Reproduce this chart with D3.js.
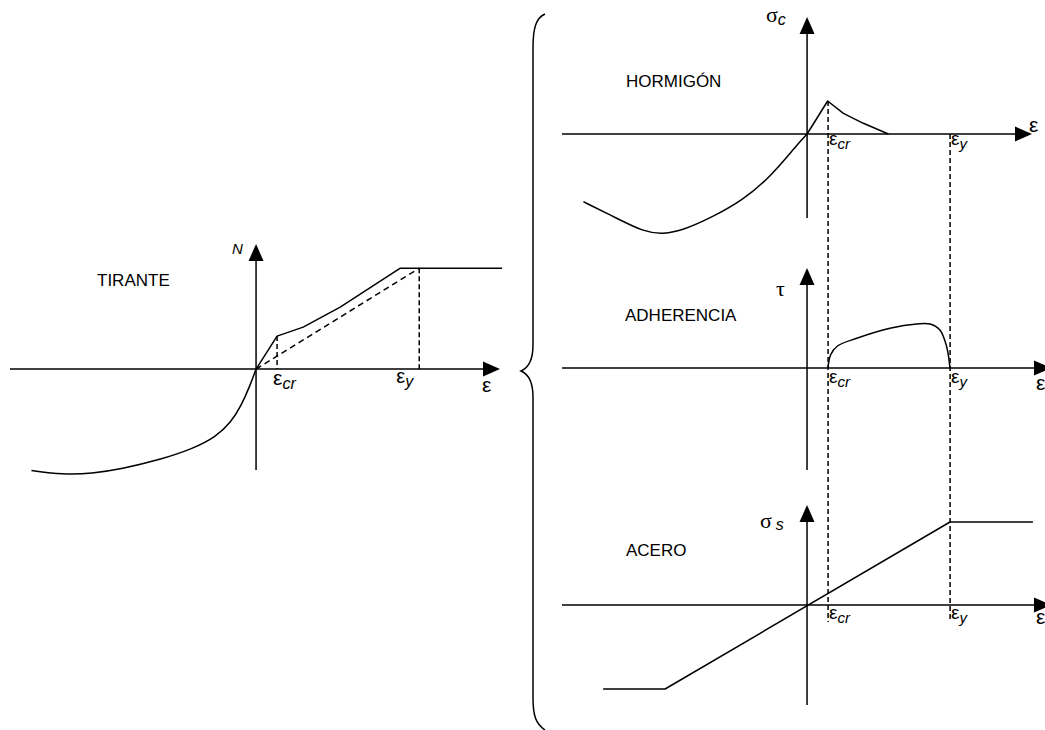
<!DOCTYPE html>
<html>
<head>
<meta charset="utf-8">
<script src="https://cdn.jsdelivr.net/npm/d3@7"></script>
<style>
  html, body { margin: 0; padding: 0; background: #fff; }
  svg { display: block; }
  text { font-family: "Liberation Sans", Arial, sans-serif; fill: #000; }
  .greek { font-family: "Liberation Serif", "Times New Roman", serif; }
</style>
</head>
<body>
<svg id="chart" width="1045" height="730"></svg>
<script>
// Unidades: eje x en múltiplos de ε_cr, eje y en unidades arbitrarias
const epsCr = 1;
const epsYTirante = 7.76;
const epsY = 6.81;

// TIRANTE: respuesta N–ε
const tiranteTension = [[0, 0], [1, 3.27], [2.24, 4.16], [4.0, 6.14], [6.86, 10], [11.7, 10]];
const tiranteSecante = [[0, 0], [7.76, 10]];
const tiranteCompresion = [[0, 0], [-0.3, -1.7], [-0.7, -3.6], [-1.2, -5.3], [-1.9, -6.7], [-3.0, -7.9],
  [-4.6, -9.0], [-6.4, -9.9], [-7.8, -10.35], [-9.2, -10.45], [-10.68, -10.05]];

// HORMIGÓN: σc–ε
const hormigonTraccion = [[0, 0], [0.98, 3.3], [1.73, 2.07], [2.68, 1.07], [3.87, 0]];
const hormigonCompresion = [[0, 0], [-0.4, -0.9], [-0.81, -1.93], [-1.76, -4.27], [-3.03, -6.6], [-4.62, -8.43],
  [-5.89, -9.6], [-6.84, -10.03], [-7.8, -9.77], [-9.06, -8.43], [-10.65, -6.77]];

// ADHERENCIA: τ–ε
const adherencia = [[1.0, 0], [1.12, 1.3], [1.45, 2.2], [2.37, 2.97], [3.95, 3.97],
  [5.22, 4.4], [5.86, 4.4], [6.33, 3.8], [6.65, 2.13], [6.81, 0]];

// ACERO: σs–ε
const acero = [[-9.71, -8.4], [-6.76, -8.4], [6.81, 8.3], [10.76, 8.3]];

const svg = d3.select('#chart');
svg.append('rect').attr('width', 1045).attr('height', 730).attr('fill', '#fff');

const panels = {
  tirante: {
    x: d3.scaleLinear().domain([-11.7, 11.6]).range([10, 500]),
    y: d3.scaleLinear().domain([-10, 12.4]).range([470, 244])
  },
  hormigon: {
    x: d3.scaleLinear().domain([-11.67, 10.71]).range([562, 1032]),
    y: d3.scaleLinear().domain([-8.4, 11.7]).range([218, 17])
  },
  adherencia: {
    x: d3.scaleLinear().domain([-11.67, 11.62]).range([562, 1051]),
    y: d3.scaleLinear().domain([-10.2, 10]).range([470, 268])
  },
  acero: {
    x: d3.scaleLinear().domain([-11.67, 11.62]).range([562, 1051]),
    y: d3.scaleLinear().domain([-10, 10]).range([705, 505])
  }
};

const sw = 1.5;

function drawAxes(p) {
  const g = svg.append('g');
  const [x0, x1] = p.x.range();
  const [y0, y1] = p.y.range();
  const ox = p.x(0), oy = p.y(0);
  g.append('line').attr('x1', x0).attr('x2', x1 - 8).attr('y1', oy).attr('y2', oy)
    .attr('stroke', '#000').attr('stroke-width', sw);
  g.append('line').attr('x1', ox).attr('x2', ox).attr('y1', y0).attr('y2', y1 + 8)
    .attr('stroke', '#000').attr('stroke-width', sw);
  // puntas de flecha
  g.append('path').attr('d', `M${x1},${oy} L${x1 - 17},${oy - 7.5} L${x1 - 17},${oy + 7.5} Z`).attr('fill', '#000');
  g.append('path').attr('d', `M${ox},${y1} L${ox - 7.5},${y1 + 17} L${ox + 7.5},${y1 + 17} Z`).attr('fill', '#000');
}

function curve(p, data, opts = {}) {
  const line = d3.line().x(d => p.x(d[0])).y(d => p.y(d[1]))
    .curve(opts.curve || d3.curveLinear);
  svg.append('path').attr('d', line(data)).attr('fill', 'none')
    .attr('stroke', '#000').attr('stroke-width', opts.width || sw)
    .attr('stroke-dasharray', opts.dash || null)
    .attr('stroke-linejoin', 'round');
}

function vdash(x, yTop, yBot, dash) {
  svg.append('line').attr('x1', x).attr('x2', x).attr('y1', yTop).attr('y2', yBot)
    .attr('stroke', '#000').attr('stroke-width', sw).attr('stroke-dasharray', dash || '5,3');
}

function label(x, y, text, size, opts = {}) {
  const t = svg.append('text').attr('x', x).attr('y', y).attr('font-size', size).text(text);
  if (opts.italic) t.attr('font-style', 'italic');
  if (opts.cls) t.attr('class', opts.cls);
  return t;
}

function epsLabel(x, y, sub, size, subSize) {
  const t = svg.append('text').attr('x', x).attr('y', y).attr('font-size', size);
  t.append('tspan').text('ε');
  t.append('tspan').attr('font-style', 'italic').attr('font-size', subSize || 15).attr('dy', 4).text(sub);
}

const smooth = d3.curveCatmullRom.alpha(0.5);
const soft = d3.curveBasis;

// ---- TIRANTE ----
const pt = panels.tirante;
drawAxes(pt);
curve(pt, tiranteTension);
curve(pt, tiranteSecante, { dash: '6,4' });
curve(pt, tiranteCompresion, { curve: soft });
vdash(pt.x(epsCr), pt.y(3.27), pt.y(0), '5,3');
vdash(pt.x(epsYTirante), pt.y(10), pt.y(0), '5,3');
label(97, 286, 'TIRANTE', 17);
label(232, 254, 'N', 15, { italic: true });
epsLabel(pt.x(epsCr) - 4, 385, 'cr', 21, 16);
epsLabel(pt.x(epsYTirante) - 23, 383, 'y', 20, 16);
label(482, 392, 'ε', 21);

// ---- HORMIGÓN ----
const ph = panels.hormigon;
drawAxes(ph);
curve(ph, hormigonTraccion);
curve(ph, hormigonCompresion, { curve: soft });
label(626, 87, 'HORMIGÓN', 17);
const sc = svg.append('text').attr('x', 766).attr('y', 22).attr('font-size', 22);
sc.append('tspan').attr('class', 'greek').text('σ');
sc.append('tspan').attr('font-style', 'italic').attr('font-size', 16).attr('dy', 3).text('c');
label(1029, 132, 'ε', 21);
epsLabel(ph.x(epsCr) + 1, 145, 'cr', 19);
epsLabel(ph.x(epsY) + 1, 145, 'y', 19);

// ---- ADHERENCIA ----
const pa = panels.adherencia;
drawAxes(pa);
curve(pa, adherencia, { curve: smooth });
label(625, 321, 'ADHERENCIA', 17);
label(776, 296, 'τ', 22, { cls: 'greek' });
label(1036, 390, 'ε', 21);
epsLabel(pa.x(epsCr) + 1, 383, 'cr', 19);
epsLabel(pa.x(epsY) + 1, 383, 'y', 19);

// ---- ACERO ----
const ps = panels.acero;
drawAxes(ps);
curve(ps, acero);
label(626, 556, 'ACERO', 17);
const ss = svg.append('text').attr('x', 760).attr('y', 528).attr('font-size', 22);
ss.append('tspan').attr('class', 'greek').text('σ');
ss.append('tspan').attr('font-style', 'italic').attr('font-size', 16).attr('dx', 4).attr('dy', 2).text('s');
label(1036, 624, 'ε', 21);
epsLabel(ps.x(epsCr) + 1, 619, 'cr', 19);
epsLabel(ps.x(epsY) + 1, 619, 'y', 19);

// líneas discontinuas que enlazan los tres diagramas
vdash(ph.x(epsCr), ph.y(3.3), ps.y(-1.7));
vdash(ph.x(epsY), ph.y(0), ps.y(-1.7));

// llave
svg.append('path')
  .attr('d', 'M545,14 C536,18 533,28 533,48 L533,345 C533,360 528,368 521,371 C528,374 533,382 533,397 L533,698 C533,716 536,724 545,730')
  .attr('fill', 'none').attr('stroke', '#000').attr('stroke-width', 1.5);
</script>
</body>
</html>
